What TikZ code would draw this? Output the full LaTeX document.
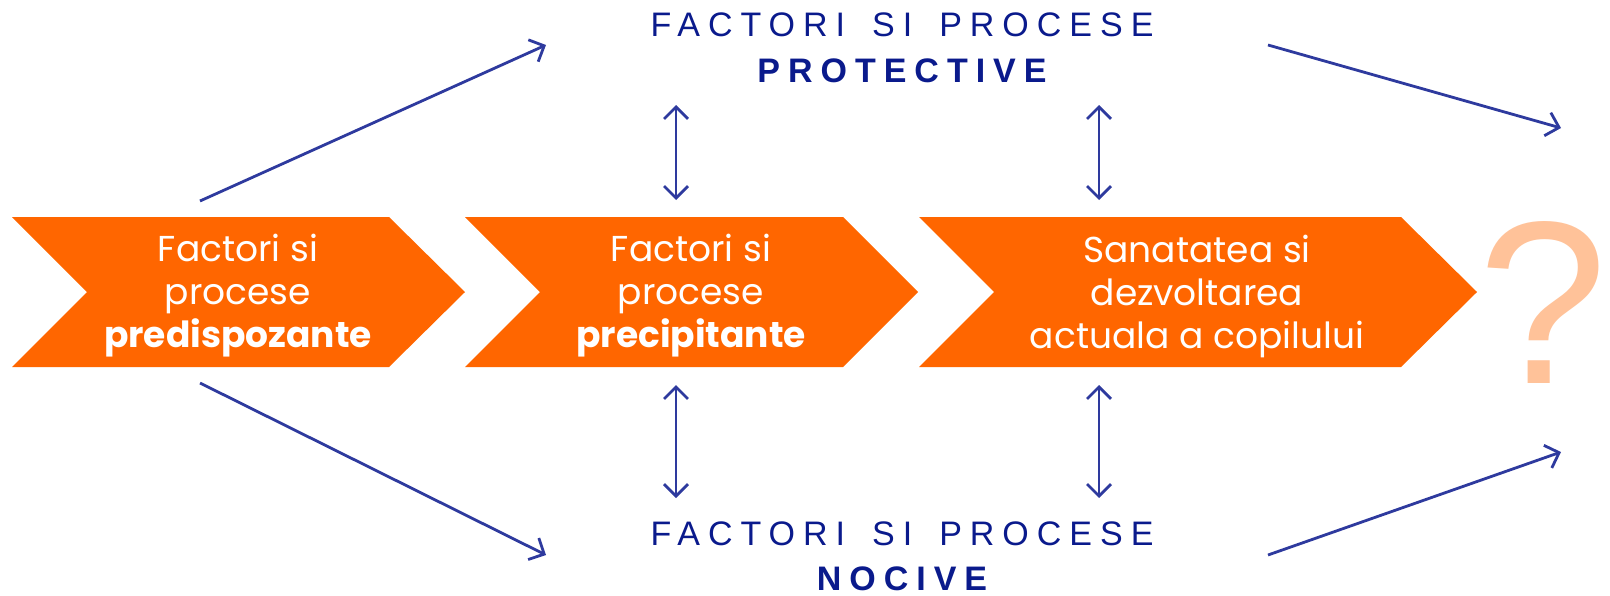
\documentclass[tikz,border=0pt]{standalone}
\usepackage{fontspec}
\setmainfont{Poppins}
\newfontfamily\hdfont[LetterSpace=23.5]{Liberation Sans}
\newfontfamily\qfont{Liberation Sans}
\usetikzlibrary{arrows.meta}
\definecolor{orng}{RGB}{255,102,0}
\definecolor{peach}{RGB}{255,194,153}
\definecolor{navytxt}{RGB}{10,26,140}
\definecolor{arrblue}{RGB}{46,58,158}
\newcommand\hdgap{\hspace{27pt}}
\begin{document}
\begin{tikzpicture}[x=1pt,y=-1pt,
  chev/.style={fill=orng},
  chevtext/.style={text=white, align=center, inner sep=0pt, font=\fontsize{36}{43}\selectfont},
  head/.style={text=navytxt, anchor=base, inner sep=0pt, font=\hdfont\fontsize{34}{40}\selectfont},
  barb/.tip={Straight Barb[length=12pt,width=24pt,line width=2.8pt]},
  link/.style={draw=arrblue, line width=2.8pt, -barb},
  dlink/.style={draw=arrblue, line width=2.8pt, barb-barb}]
\useasboundingbox (0,0) rectangle (1610,595);
% chevrons
\fill[chev] (12,217) -- (389,217) -- (465,292) -- (389,367) -- (12,367) -- (87,292) -- cycle;
\fill[chev] (465,217) -- (843,217) -- (918,292) -- (843,367) -- (465,367) -- (540,292) -- cycle;
\fill[chev] (919,217) -- (1401,217) -- (1477,292) -- (1401,367) -- (919,367) -- (994,292) -- cycle;
\node[chevtext] (t1) at (238,296) {Factori si\\procese\\\textbf{predispozante}};
\node[chevtext] (t2) at (691,296) {Factori si\\procese\\\textbf{precipitante}};
\node[chevtext] (t3) at (1197,296) {Sanatatea si\\dezvoltarea\\actuala a copilului};
% question mark
\node[text=peach, anchor=base, inner sep=0pt, font=\qfont\fontsize{232}{232}\selectfont] (q) at (1543,383) {?};
% headers
\node[head] (p1) at (902,36) {FACTORI\hdgap SI\hdgap PROCESE};
\node[head] (p2) at (902,82) {\bfseries PROTECTIVE};
\node[head] (n1) at (902,545) {FACTORI\hdgap SI\hdgap PROCESE};
\node[head] (n2) at (902,590) {\bfseries NOCIVE};
% arrow ends
\coordinate (a1s) at (200,201); \coordinate (a1e) at (546,45);
\coordinate (a2s) at (200,383); \coordinate (a2e) at (546,555);
\coordinate (a3s) at (1268,45); \coordinate (a3e) at (1561,128);
\coordinate (a4s) at (1268,555); \coordinate (a4e) at (1561,452);
\coordinate (v1a) at (676,105); \coordinate (v1b) at (676,200);
\coordinate (v2a) at (1099,105); \coordinate (v2b) at (1099,200);
\coordinate (v3a) at (676,385); \coordinate (v3b) at (676,498);
\coordinate (v4a) at (1099,385); \coordinate (v4b) at (1099,498);
\draw[link] (a1s) -- (a1e);
\draw[link] (a2s) -- (a2e);
\draw[link] (a3s) -- (a3e);
\draw[link] (a4s) -- (a4e);
\draw[dlink] (v1a) -- (v1b);
\draw[dlink] (v2a) -- (v2b);
\draw[dlink] (v3a) -- (v3b);
\draw[dlink] (v4a) -- (v4b);
\end{tikzpicture}
\end{document}
